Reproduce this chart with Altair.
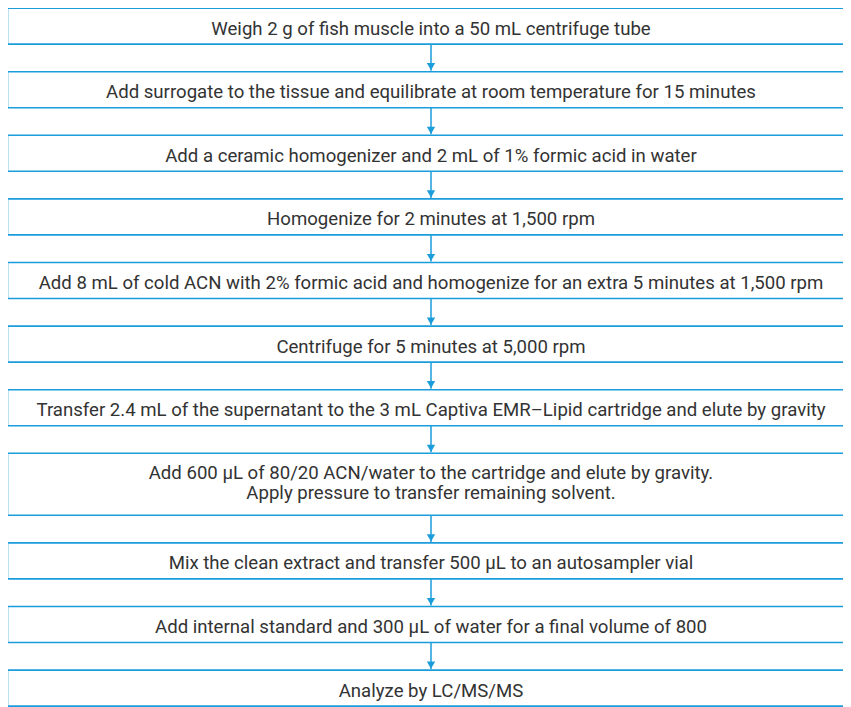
import altair as alt
import pandas as pd

steps = [
    "Weigh 2 g of fish muscle into a 50 mL centrifuge tube",
    "Add surrogate to the tissue and equilibrate at room temperature for 15 minutes",
    "Add a ceramic homogenizer and 2 mL of 1% formic acid in water",
    "Homogenize for 2 minutes at 1,500 rpm",
    "Add 8 mL of cold ACN with 2% formic acid and homogenize for an extra 5 minutes at 1,500 rpm",
    "Centrifuge for 5 minutes at 5,000 rpm",
    "Transfer 2.4 mL of the supernatant to the 3 mL Captiva EMR\u2013Lipid cartridge and elute by gravity",
    "Add 600 \u00b5L of 80/20 ACN/water to the cartridge and elute by gravity.\nApply pressure to transfer remaining solvent.",
    "Mix the clean extract and transfer 500 \u00b5L to an autosampler vial",
    "Add internal standard and 300 \u00b5L of water for a final volume of 800",
    "Analyze by LC/MS/MS",
]

# layout (page pixel coordinates)
W, H = 835, 699
OFF_X, OFF_Y = 8, 11.4
TOP0 = 11.5
BOX_H = 36
EXTRA_LINE = 26
GAP = 27.6
TEXT_DY = 2.5
LINE_H = 20
LEFT, RIGHT = 7.5, 856
CX = 431
BLUE = "#1b9ddb"

rows = []
top = TOP0
for i, s in enumerate(steps):
    n = s.count("\n") + 1
    h = BOX_H + EXTRA_LINE * (n - 1)
    rows.append(dict(i=i, label=s, top=top, bottom=top + h,
                     cy=top + BOX_H / 2 + TEXT_DY - 1.0 * (n - 1),
                     x0=LEFT, x1=RIGHT, cx=CX))
    top = top + h + GAP
df = pd.DataFrame(rows)

arrows = []
for a, b in zip(rows[:-1], rows[1:]):
    arrows.append(dict(y0=a["bottom"], y1=b["top"] - 1, head=b["top"] - 5, cx=CX))
da = pd.DataFrame(arrows)

xs = alt.Scale(domain=[OFF_X, OFF_X + W], range=[0, W], zero=False, nice=False)
ys = alt.Scale(domain=[OFF_Y, OFF_Y + H], range=[0, H], zero=False, nice=False)

boxes = alt.Chart(df).mark_rect(fill="white", stroke=BLUE, strokeWidth=1.6).encode(
    x=alt.X("x0:Q", scale=xs, axis=None),
    x2="x1:Q",
    y=alt.Y("top:Q", scale=ys, axis=None),
    y2="bottom:Q",
)

texts = alt.Chart(df).mark_text(
    font="Roboto", fontSize=18.6, color="#333333", align="center", baseline="middle",
    lineBreak="\n", lineHeight=LINE_H,
).encode(
    x=alt.X("cx:Q", scale=xs, axis=None),
    y=alt.Y("cy:Q", scale=ys, axis=None),
    text="label:N",
)

shafts = alt.Chart(da).mark_rule(color=BLUE, strokeWidth=1.5).encode(
    x=alt.X("cx:Q", scale=xs, axis=None),
    y=alt.Y("y0:Q", scale=ys, axis=None),
    y2="y1:Q",
)

heads = alt.Chart(da).mark_point(shape="triangle-down", filled=True, color=BLUE,
                                  size=70, opacity=1).encode(
    x=alt.X("cx:Q", scale=xs, axis=None),
    y=alt.Y("head:Q", scale=ys, axis=None),
)

chart = alt.layer(shafts, heads, boxes, texts).properties(
    width=W, height=H, padding=0,
    autosize=alt.AutoSizeParams(type="none"),
).configure_view(stroke=None)

chart.save("out.html", embed_options={"renderer": "svg", "actions": False})
